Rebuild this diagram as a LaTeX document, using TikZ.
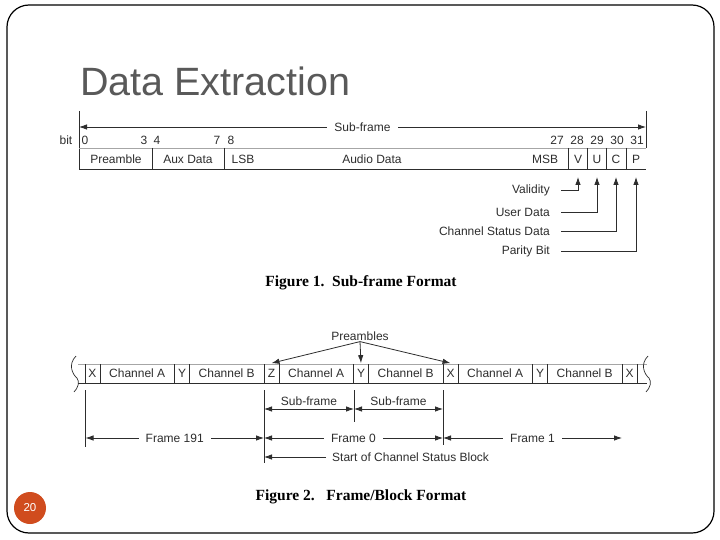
\documentclass[tikz,border=0pt]{standalone}
\usepackage{fontspec}
\setmainfont{Liberation Sans}
\newfontfamily\captionfont{Liberation Serif}
\usetikzlibrary{arrows.meta,positioning}

\definecolor{titlegray}{RGB}{89,89,89}
\definecolor{slidenum}{RGB}{208,76,30}
\definecolor{ink}{RGB}{45,45,45}

\tikzset{
  lbl/.style={font=\fontsize{12}{14}\selectfont, text=ink, inner sep=1pt},
  figcap/.style={font=\captionfont\bfseries\fontsize{15.5}{17}\selectfont, inner sep=1pt},
  tick/.style={draw=ink, line width=0.8pt},
  tipend/.style={-{Latex[length=8pt,width=5.5pt]}, draw=ink, line width=0.8pt},
  dimline/.style={{Latex[length=8pt,width=5.5pt]}-{Latex[length=8pt,width=5.5pt]}, draw=ink, line width=0.8pt},
  gap/.style={lbl, fill=white, inner xsep=7pt},
}

\begin{document}
\begin{tikzpicture}[x=1pt, y=-1pt]
  \useasboundingbox (0,0) rectangle (720,540);

  % --- Slide ---
  \draw[line width=1.2pt, rounded corners=22pt] (7,5) rectangle (714,533);
  \node[anchor=base west, font=\fontsize{39.5}{44}\selectfont, text=titlegray, inner sep=0pt] (title) at (80,96) {Data Extraction};
  \node[circle, fill=slidenum, minimum size=32pt, inner sep=0pt, text=white, font=\fontsize{11.5}{13}\selectfont] (pagenum) at (30,508) {20};

  % --- Figure 1: sub-frame format ---
  \coordinate (sfL) at (79,127);
  \coordinate (sfR) at (646,127);
  \draw[tick] (79,111) -- (79,170);
  \draw[tick] (646,111) -- (646,148);
  \draw[dimline] (sfL) -- (sfR) node[midway, gap] (subframe) {Sub-frame};

  % bit numbers
  \node[lbl] (bit) at (66,140) {bit};
  \foreach \x/\n in {85/0, 144/3, 157/4, 217/7, 231/8, 557/27, 577/28, 597/29, 617/30, 637/31}
    \node[lbl] (b\n) at (\x,140) {\n};

  % cells
  \draw[gray!70, line width=0.6pt] (79,148) -- (646,148);
  \draw[ink, line width=1pt] (79,170) -- (646,170);
  \foreach \x in {152,224,568,587,606,626}
    \draw[tick] (\x,148) -- (\x,170);
  \node[lbl] (pre) at (116,159) {Preamble};
  \node[lbl] (aux) at (188,159) {Aux Data};
  \node[lbl] (lsb) at (243,159) {LSB};
  \node[lbl] (audio) at (372,159) {Audio Data};
  \node[lbl] (msb) at (545,159) {MSB};
  \node[lbl] (v) at (578,159) {V};
  \node[lbl] (u) at (597,159) {U};
  \node[lbl] (c) at (616,159) {C};
  \node[lbl] (p) at (636,159) {P};

  % flag bits
  \node[lbl, anchor=east] (valid) at (551,190) {Validity};
  \node[lbl, anchor=east] (user) at (551,212) {User Data};
  \node[lbl, anchor=east] (chstat) at (551,231) {Channel Status Data};
  \node[lbl, anchor=east] (parity) at (551,251) {Parity Bit};
  \draw[tipend] ([xshift=10pt]valid.east) -| ([yshift=-18pt]v.center);
  \draw[tipend] ([xshift=10pt]user.east) -| ([yshift=-18pt]u.center);
  \draw[tipend] ([xshift=10pt]chstat.east) -| ([yshift=-18pt]c.center);
  \draw[tipend] ([xshift=10pt]parity.east) -| ([yshift=-18pt]p.center);

  \node[figcap] (fig1) at (361,283) {Figure 1.\ \ Sub-frame Format};

  % --- Figure 2: frame/block format ---
  \draw[gray!70, line width=0.6pt] (78,364) -- (647,364);
  \draw[ink, line width=1pt] (78,383) -- (647,383);
  \foreach \pr/\ch [count=\i from 0] in {X/Channel A, Y/Channel B, Z/Channel A, Y/Channel B, X/Channel A, Y/Channel B} {
    \pgfmathsetmacro\xo{85+89.5*\i}
    \draw[tick] (\xo,364) -- (\xo,383);
    \draw[tick] (\xo+15,364) -- (\xo+15,383);
    \node[lbl] (pa\i) at (\xo+7.5,373.5) {\pr};
    \node[lbl] (ch\i) at (\xo+52.2,373.5) {\ch};
  }
  \draw[tick] (622,364) -- (622,383);
  \draw[tick] (637,364) -- (637,383);
  \node[lbl] (pa6) at (629.5,373.5) {X};

  % break marks
  \draw[ink, line width=0.7pt] (76,356) .. controls (68,364) and (72,374) .. (77,378)
    .. controls (80,382) and (78,388) .. (74,392);
  \draw[ink, line width=0.7pt] (648,356) .. controls (640,364) and (644,374) .. (649,378)
    .. controls (652,382) and (650,388) .. (646,392);

  % preambles
  \node[lbl] (pres) at (360,336) {Preambles};
  \draw[tipend] (pres.south) -- ([yshift=5pt]pa2.north);
  \draw[tipend] (pres.south) -- ([yshift=5pt]pa3.north);
  \draw[tipend] (pres.south) -- ([yshift=5pt]pa4.north);

  % extension lines
  \draw[tick] (85.5,390) -- (85.5,447);
  \draw[tick] (264,390) -- (264,463);
  \draw[tick] (354,390) -- (354,422);
  \draw[tick] (443,390) -- (443,445);

  \coordinate (sA) at (264,409);
  \coordinate (sB) at (354,409);
  \coordinate (sC) at (443,409);
  \draw[dimline] (sA) -- (sB) node[midway, lbl, above=2pt] (sub1) {Sub-frame};
  \draw[dimline] (sB) -- (sC) node[midway, lbl, above=2pt] (sub2) {Sub-frame};

  \coordinate (fA) at (85.5,438);
  \coordinate (fB) at (264,438);
  \coordinate (fC) at (443,438);
  \coordinate (fD) at (622,438);
  \draw[dimline] (fA) -- (fB) node[midway, gap] (fr191) {Frame 191};
  \draw[dimline] (fB) -- (fC) node[midway, gap] (fr0) {Frame 0};
  \draw[dimline] (fC) -- (fD) node[midway, gap] (fr1) {Frame 1};

  \node[lbl, anchor=west] (csb) at (331,457) {Start of Channel Status Block};
  \coordinate (csbTip) at (264,457);
  \draw[tipend] ([xshift=-5pt]csb.west) -- (csbTip);

  \node[figcap] (fig2) at (361,497) {Figure 2.\ \ \ Frame/Block Format};
\end{tikzpicture}
\end{document}
